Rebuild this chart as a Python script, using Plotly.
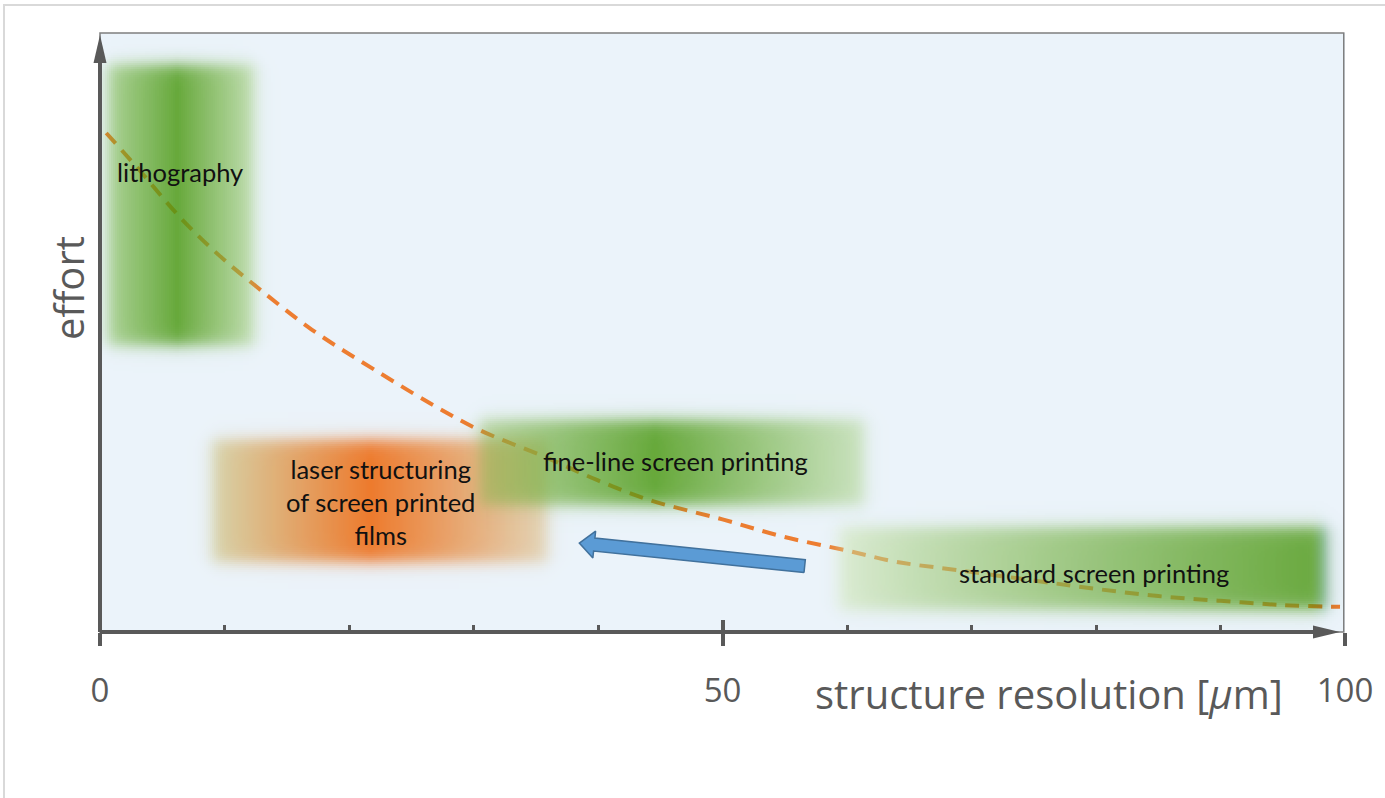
import numpy as np
import plotly.graph_objects as go

# ---------------- data ----------------
x_range = [0, 100]
y_range = [0, 100]
x_tick_values = [0, 10, 20, 30, 40, 50, 60, 70, 80, 90, 100]
x_tick_labels = ["0", "", "", "", "", "50", "", "", "", "", "100"]
major_tick_values = [0, 50, 100]
upper_tick_values = [50, 100]

curve_x = [0.5, 3, 6.4, 9.5, 12.6, 17, 22.5, 27, 30.5, 36, 40, 44.2, 50, 54.9,
           60, 64, 69, 75, 80, 85, 90, 95, 99.6]
curve_y = [83.3, 77.5, 69.3, 63, 57.6, 50.5, 43.2, 37.6, 33.7, 29, 25.3, 22, 18.8,
           15.9, 13.6, 11.7, 10.3, 8.6, 7.2, 6.0, 5.2, 4.5, 4.2]

region_names = ["lithography",
                "laser structuring<br>of screen printed<br>films",
                "fine-line screen printing",
                "standard screen printing"]
region_x0 = [0.6, 9.0, 30.5, 59.3]
region_x1 = [12.4, 36.0, 61.4, 98.6]
region_y0 = [47.9, 11.7, 21.2, 3.7]
region_y1 = [94.7, 32.1, 35.4, 17.5]
region_peak_x = [6.2, 21.7, 44.6, 96.8]
label_x = [6.4, 22.5, 46.2, 79.8]
label_y = [76.8, 21.7, 28.5, 9.9]

arrow_tail = [56.6, 11.0]
arrow_tip = [38.5, 14.85]

x_title = "structure resolution [<i>μ</i>m]"
y_title = "effort"

# ---------------- style ----------------
W, H = 1385, 798
ML, MR, MT, MB = 100, 40, 33, 166
PW, PH = W - ML - MR, H - MT - MB
kx = PW / (x_range[1] - x_range[0])
ky = PH / (y_range[1] - y_range[0])
BG = np.array([235, 243, 250], float)
AXIS = "#595959"

region_style = [
    dict(left=(168, 208, 145), peak=(102, 168, 58), right=(188, 219, 170), gamma=1.1),
    dict(left=(214, 210, 168), peak=(237, 122, 45), right=(226, 212, 182), gamma=1.0),
    dict(left=(180, 212, 160), peak=(102, 168, 58), right=(200, 225, 188), gamma=1.1),
    dict(left=(220, 236, 212), peak=(108, 170, 66), right=(108, 170, 66), gamma=0.85),
]
A_EDGE, A_PEAK = 0.5, 0.82
BLUR_PX = 9.0


def blob_image(x0, x1, y0, y1, px, st):
    sx, sy = BLUR_PX / kx, BLUR_PX / ky
    dx, dy = 2.0 / kx, 2.0 / ky
    xs = np.arange(max(x_range[0], x0 - 3 * sx), min(x_range[1], x1 + 3 * sx), dx)
    ys = np.arange(max(y_range[0], y0 - 3 * sy), min(y_range[1], y1 + 3 * sy), dy)
    X, Y = np.meshgrid(xs, ys)
    left = X < px
    t = np.where(left, (px - X) / max(px - x0, 1e-6), (X - px) / max(x1 - px, 1e-6))
    t = np.clip(t, 0, 1)
    w = (1 - t) ** st["gamma"]
    edge = np.where(left[..., None], np.array(st["left"], float), np.array(st["right"], float))
    peak = np.array(st["peak"], float)
    target = edge + (peak - edge) * w[..., None]
    a = A_EDGE + (A_PEAK - A_EDGE) * w
    col = (target - (1 - a[..., None]) * BG) / a[..., None]
    col = np.clip(col, 0, 255)
    mx = 0.5 * (np.tanh((X - x0) / sx) - np.tanh((X - x1) / sx))
    my = 0.5 * (np.tanh((Y - y0) / sy) - np.tanh((Y - y1) / sy))
    alpha = a * mx * my
    z = np.concatenate([np.round(col), np.round(alpha, 3)[..., None]], axis=2)
    return xs[0], dx, ys[0], dy, z.tolist()


fig = go.Figure()

# dashed effort curve (base subplot, under the regions)
fig.add_trace(go.Scatter(x=curve_x, y=curve_y, mode="lines", line_shape="spline",
                         line=dict(color="#ED7D31", width=4, dash="14px,9px"),
                         hoverinfo="skip", showlegend=False))

# blurred regions (overlay subplot x2/y, drawn above the curve)
for i in range(len(region_names)):
    x0i, dxi, y0i, dyi, z = blob_image(region_x0[i], region_x1[i], region_y0[i],
                                       region_y1[i], region_peak_x[i], region_style[i])
    fig.add_trace(go.Image(z=z, colormodel="rgba", x0=x0i, dx=dxi, y0=y0i, dy=dyi,
                           zsmooth="fast", hoverinfo="skip", xaxis="x2", yaxis="y"))

# block arrow (top overlay subplot)
tail = np.array([arrow_tail[0] * kx, arrow_tail[1] * ky])
tip = np.array([arrow_tip[0] * kx, arrow_tip[1] * ky])
u = (tip - tail) / np.linalg.norm(tip - tail)
n = np.array([-u[1], u[0]])
base = tip - u * 15
shaft, head = 6.5, 13.5
pts = [tail + n * shaft, base + n * shaft, base + n * head, tip,
       base - n * head, base - n * shaft, tail - n * shaft, tail + n * shaft]
fig.add_trace(go.Scatter(x=[p[0] / kx for p in pts], y=[p[1] / ky for p in pts],
                         mode="lines", fill="toself", fillcolor="#5B9BD5",
                         line=dict(color="#41719C", width=1.5), xaxis="x3", yaxis="y",
                         hoverinfo="skip", showlegend=False))


def px_x(v):
    return (v - x_range[0]) / (x_range[1] - x_range[0])


def px_y(v):
    return (v - y_range[0]) / (y_range[1] - y_range[0])


# arrowheads of the axes, in paper units (pixel offsets divided by plot size)
yt_x, yt_y = px_x(x_range[0]), 1 - 2 / PH
y_head = (f"M{yt_x},{yt_y} L{yt_x - 6.5 / PW},{yt_y - 28 / PH} "
          f"L{yt_x + 6.5 / PW},{yt_y - 28 / PH} Z")
xt_x, xt_y = 1 - 5 / PW, px_y(y_range[0])
x_head = (f"M{xt_x},{xt_y} L{xt_x - 27 / PW},{xt_y + 6.5 / PH} "
          f"L{xt_x - 27 / PW},{xt_y - 6.5 / PH} Z")

shapes = [
    # outer light frame
    dict(type="rect", xref="paper", yref="paper", x0=(4 - ML) / PW, x1=(W + 10 - ML) / PW,
         y0=(PH + MT - H - 10) / PH, y1=(PH + MT - 5) / PH,
         line=dict(color="#D9D9D9", width=2), layer="below"),
    # plot border
    dict(type="rect", xref="paper", yref="paper", x0=0, x1=0.999, y0=0, y1=1,
         line=dict(color="#7F7F7F", width=1.5), layer="below"),
    # y axis line
    dict(type="line", xref="paper", yref="paper", x0=px_x(x_range[0]), x1=px_x(x_range[0]),
         y0=px_y(y_range[0]), y1=yt_y - 20 / PH, line=dict(color=AXIS, width=4)),
    # x axis line
    dict(type="line", xref="paper", yref="paper", x0=px_x(x_range[0]), x1=xt_x - 20 / PW,
         y0=px_y(y_range[0]), y1=px_y(y_range[0]), line=dict(color=AXIS, width=4)),
    dict(type="path", xref="paper", yref="paper", path=y_head, fillcolor=AXIS,
         line=dict(width=0)),
    dict(type="path", xref="paper", yref="paper", path=x_head, fillcolor=AXIS,
         line=dict(width=0)),
]

annotations = []
for i, name in enumerate(region_names):
    annotations.append(dict(x=label_x[i], y=label_y[i], xref="x", yref="y", text=name,
                            showarrow=False, font=dict(family="Lato", size=25.5, color="#111111"),
                            align="center", xanchor="center", yanchor="middle"))
annotations.append(dict(x=(68 - ML) / PW, y=(PH + MT - 288) / PH, xref="paper", yref="paper",
                        text=y_title, textangle=-90, showarrow=False,
                        xanchor="center", yanchor="middle",
                        font=dict(family="Open Sans", size=40, color=AXIS)))
annotations.append(dict(x=76.2, y=(PH + MT - 693) / PH, xref="x", yref="paper",
                        text=x_title, showarrow=False, xanchor="center", yanchor="middle",
                        font=dict(family="Open Sans", size=40, color=AXIS)))

fig.update_layout(
    width=W, height=H, autosize=False,
    margin=dict(l=ML, r=MR, t=MT, b=MB, pad=0),
    paper_bgcolor="white", plot_bgcolor="#EBF3FA",
    showlegend=False,
    shapes=shapes, annotations=annotations,
    xaxis=dict(range=x_range, autorange=False, showgrid=False, zeroline=False, showline=False,
               tickmode="array", tickvals=x_tick_values, ticktext=x_tick_labels,
               ticks="inside", ticklen=7, tickwidth=3, tickcolor=AXIS,
               ticklabelstandoff=36,
               tickfont=dict(family="Open Sans", size=33, color=AXIS)),
    xaxis2=dict(overlaying="x", matches="x", anchor="y", side="bottom",
                range=x_range, showgrid=False, zeroline=False, showline=False,
                tickmode="array", tickvals=major_tick_values, ticks="outside",
                ticklen=13, tickwidth=4, tickcolor=AXIS, showticklabels=False),
    xaxis3=dict(overlaying="x", matches="x", anchor="y", side="bottom",
                range=x_range, showgrid=False, zeroline=False, showline=False,
                tickmode="array", tickvals=upper_tick_values, ticks="inside",
                ticklen=12, tickwidth=4, tickcolor=AXIS, showticklabels=False),
    yaxis=dict(range=y_range, autorange=False, showgrid=False, zeroline=False,
               showline=False, showticklabels=False, ticks="", scaleanchor=False),
)

fig.write_html("out.html", config={"displayModeBar": False},
               post_script="document.body.style.margin='0px';")
